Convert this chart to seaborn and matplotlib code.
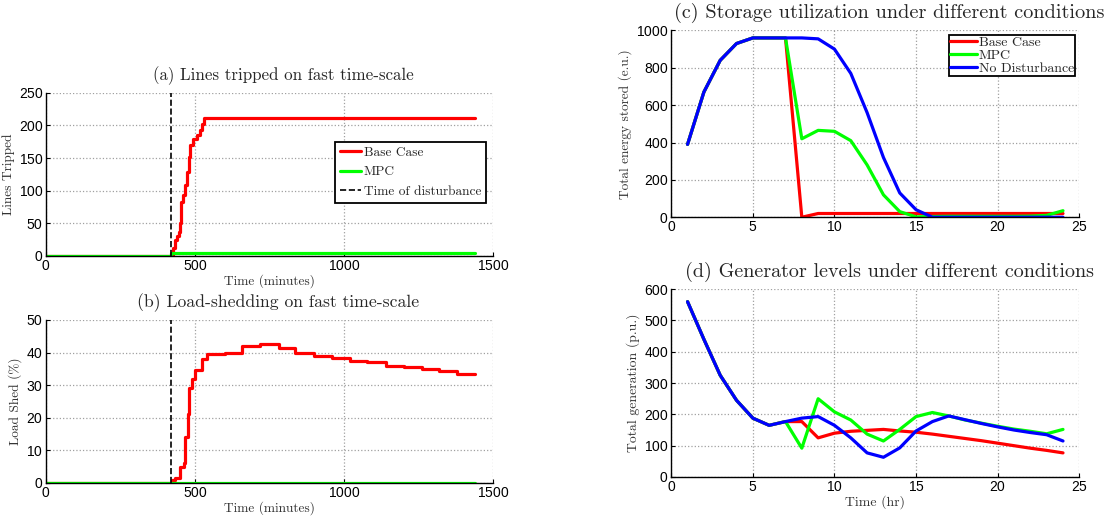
import matplotlib
matplotlib.use("Agg")
import matplotlib.pyplot as plt
import seaborn as sns

# (a) lines tripped, step series (minutes)
trip_t = [0, 420, 425, 433, 439, 447, 450, 453, 461, 467, 472, 478, 484, 493, 506, 517, 523, 531, 1440]
trip_base = [0, 0, 12, 25, 30, 37, 50, 83, 93, 109, 129, 152, 170, 180, 185, 193, 203, 212, 212]
trip_mpc_t = [0, 420, 1440]
trip_mpc = [0, 4, 4]

# (b) load shed (%)
shed_t = [0, 420, 422, 433, 450, 462, 467, 475, 480, 489, 500, 523, 540, 601, 657, 718, 780,
          836, 898, 960, 1021, 1077, 1139, 1200, 1262, 1318, 1379, 1440]
shed_base = [0, 0, 1, 1.5, 5, 6, 14, 21, 29, 32, 34.5, 38, 39.5, 40, 42, 42.5, 41.5,
             40, 39, 38.3, 37.5, 37, 36, 35.5, 35, 34.3, 33.3, 33.3]
shed_mpc_t = [0, 1440]
shed_mpc = [0, 0]

disturbance = 420

# (c) storage, hourly
hours = list(range(1, 25))
store_base = [390, 670, 840, 930, 960, 960, 960, 0, 20, 20, 20, 20, 20, 20, 20, 20, 20, 20, 20, 20, 20, 20, 20, 20]
store_mpc = [390, 670, 840, 930, 960, 960, 960, 420, 465, 460, 410, 280, 120, 30, 2, 4, 5, 5, 5, 5, 5, 6, 10, 35]
store_nodist = [390, 670, 840, 930, 960, 960, 960, 960, 955, 900, 770, 560, 320, 130, 40, 0, 0, 0, 0, 0, 0, 0, 0, 0]

# (d) generation, hourly
gen_base = [560, 440, 325, 245, 188, 165, 177, 177, 125, 140, 146, 149, 152, 147, 143, 137, 130, 123, 116, 108, 100, 92, 85, 77]
gen_mpc = [560, 440, 325, 245, 188, 165, 177, 92, 250, 208, 182, 137, 115, 152, 193, 206, 195, 182, 172, 162, 153, 146, 138, 152]
gen_nodist = [560, 440, 325, 245, 188, 165, 177, 188, 193, 165, 125, 77, 63, 93, 147, 177, 195, 183, 171, 160, 150, 142, 135, 115]

RED, GREEN, BLUE = "#ff0000", "#00ff00", "#0000ff"
SERIF = "cmr10"
LW = 2.3

sns.set_theme(style="whitegrid")
plt.rcParams["font.family"] = ["Liberation Sans", "DejaVu Sans"]
plt.rcParams["axes.formatter.use_mathtext"] = True

fig = plt.figure(figsize=(11.15, 5.16), dpi=100)
ax_a = fig.add_axes([0.0413, 0.504, 0.401, 0.316])
ax_b = fig.add_axes([0.0413, 0.064, 0.401, 0.316])
ax_c = fig.add_axes([0.602, 0.579, 0.366, 0.362])
ax_d = fig.add_axes([0.602, 0.0756, 0.366, 0.364])


def style(ax, title, ylabel, xlabel, tsize, lsize, tx=0.5):
    ax.set_facecolor("white")
    ax.grid(True, linestyle=":", color="#a0a0a0", linewidth=0.9)
    for s in ["top", "right"]:
        ax.spines[s].set_visible(False)
    for s in ["left", "bottom"]:
        ax.spines[s].set_color("black")
        ax.spines[s].set_linewidth(1.0)
    ax.tick_params(direction="in", length=3, width=0.8, colors="black", labelsize=10,
                   pad=2, left=True, bottom=True)
    ax.set_title(title, family=SERIF, fontsize=tsize, pad=9, x=tx)
    ax.set_ylabel(ylabel, family=SERIF, fontsize=lsize, color="#333333", labelpad=3)
    if xlabel:
        ax.set_xlabel(xlabel, family=SERIF, fontsize=lsize, color="#333333", labelpad=1)
    else:
        ax.set_xlabel("")


def legend(ax, size, **kw):
    leg = ax.legend(prop={"family": SERIF, "size": size}, frameon=True, fancybox=False,
                    edgecolor="black", framealpha=1, **kw)
    leg.get_frame().set_linewidth(1.3)
    return leg


# (a)
sns.lineplot(x=trip_t, y=trip_base, color=RED, lw=LW, drawstyle="steps-post", ax=ax_a, label="Base Case")
sns.lineplot(x=trip_mpc_t, y=trip_mpc, color=GREEN, lw=LW, drawstyle="steps-post", ax=ax_a, label="MPC")
ax_a.axvline(disturbance, color="black", ls="--", lw=1.2, label="Time of disturbance")
ax_a.set_xlim(0, 1500)
ax_a.set_ylim(0, 250)
ax_a.set_xticks([0, 500, 1000, 1500])
ax_a.set_yticks(range(0, 251, 50))
style(ax_a, "(a) Lines tripped on fast time-scale", "Lines Tripped", "Time (minutes)", 12.2, 9.6, tx=0.53)
legend(ax_a, 9.6, loc="upper left", bbox_to_anchor=(0.647, 0.70), borderaxespad=0, borderpad=0.35,
       handlelength=1.6, handletextpad=0.2, labelspacing=0.55)

# (b)
sns.lineplot(x=shed_t, y=shed_base, color=RED, lw=LW, drawstyle="steps-post", ax=ax_b)
sns.lineplot(x=shed_mpc_t, y=shed_mpc, color=GREEN, lw=LW, drawstyle="steps-post", ax=ax_b)
ax_b.axvline(disturbance, color="black", ls="--", lw=1.2)
ax_b.set_xlim(0, 1500)
ax_b.set_ylim(0, 50)
ax_b.set_xticks([0, 500, 1000, 1500])
ax_b.set_yticks(range(0, 51, 10))
style(ax_b, "(b) Load-shedding on fast time-scale", "Load Shed (%)", "Time (minutes)", 12.7, 9.6, tx=0.52)

# (c)
sns.lineplot(x=hours, y=store_base, color=RED, lw=LW, ax=ax_c, label="Base Case")
sns.lineplot(x=hours, y=store_mpc, color=GREEN, lw=LW, ax=ax_c, label="MPC")
sns.lineplot(x=hours, y=store_nodist, color=BLUE, lw=LW, ax=ax_c, label="No Disturbance")
ax_c.set_xlim(0, 25)
ax_c.set_ylim(0, 1000)
ax_c.set_xticks(range(0, 26, 5))
ax_c.set_yticks(range(0, 1001, 200))
style(ax_c, "(c) Storage utilization under different conditions", "Total energy stored (e.u.)", None,
      14.6, 9.6, tx=0.534)
legend(ax_c, 10, loc="upper right", bbox_to_anchor=(0.99, 0.975), borderaxespad=0, borderpad=0.1,
       handlelength=1.9, labelspacing=0.0, handletextpad=0.15)

# (d)
sns.lineplot(x=hours, y=gen_base, color=RED, lw=LW, ax=ax_d)
sns.lineplot(x=hours, y=gen_mpc, color=GREEN, lw=LW, ax=ax_d)
sns.lineplot(x=hours, y=gen_nodist, color=BLUE, lw=LW, ax=ax_d)
ax_d.set_xlim(0, 25)
ax_d.set_ylim(0, 600)
ax_d.set_xticks(range(0, 26, 5))
ax_d.set_yticks(range(0, 601, 100))
style(ax_d, "(d) Generator levels under different conditions", "Total generation (p.u.)", "Time (hr)",
      14.5, 9.9, tx=0.534)

fig.savefig("out.png", dpi=100)
